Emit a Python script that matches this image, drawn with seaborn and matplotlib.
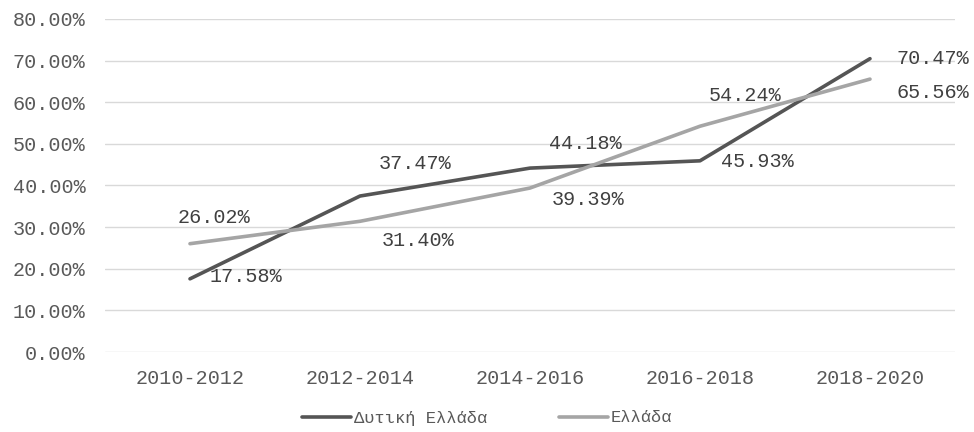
import pandas as pd
import matplotlib
matplotlib.use('Agg')
import matplotlib.pyplot as plt
import seaborn as sns
from matplotlib.ticker import PercentFormatter

# Data
periods = ['2010-2012', '2012-2014', '2014-2016', '2016-2018', '2018-2020']
west_greece = [17.58, 37.47, 44.18, 45.93, 70.47]
greece = [26.02, 31.40, 39.39, 54.24, 65.56]
series_names = ['Δυτική Ελλάδα', 'Ελλάδα']

# label offsets in pixels (dx, dy) relative to each point
west_offsets = [(56, 2), (55, 33), (55, 25), (57, -1), (63, 0)]
greece_offsets = [(24, 26), (58, -19), (58, -11), (45, 31), (63, -13)]

df = pd.DataFrame({
    'period': periods * 2,
    'value': west_greece + greece,
    'series': [series_names[0]] * 5 + [series_names[1]] * 5,
})

sns.set_style('white')
plt.rcParams['font.family'] = ['Liberation Mono', 'DejaVu Sans Mono']

fig = plt.figure(figsize=(9.74, 4.32), dpi=100)
ax = fig.add_axes([105 / 974, 80 / 432, 850 / 974, 333 / 432])

palette = {series_names[0]: '#555555', series_names[1]: '#a5a5a5'}
sns.lineplot(data=df, x='period', y='value', hue='series', palette=palette,
             linewidth=2.6, sort=False, ax=ax)

ax.set_xlim(-0.5, 4.5)
ax.set_ylim(0, 80)
ax.set_yticks(range(0, 81, 10))
ax.yaxis.set_major_formatter(PercentFormatter(decimals=2))
ax.grid(axis='y', color='#d9d9d9', linewidth=1)
ax.grid(axis='x', visible=False)
for s in ax.spines.values():
    s.set_visible(False)
ax.tick_params(axis='both', length=0, labelsize=14.5, labelcolor='#595959')
ax.tick_params(axis='y', pad=14)
ax.tick_params(axis='x', pad=12)
ax.set_xlabel('')
ax.set_ylabel('')

for vals, offs in [(west_greece, west_offsets), (greece, greece_offsets)]:
    for i, (v, (dx, dy)) in enumerate(zip(vals, offs)):
        ax.annotate(f'{v:.2f}%', xy=(i, v), xytext=(dx, dy),
                    textcoords='offset pixels', ha='center', va='center',
                    fontsize=14.5, color='#404040', annotation_clip=False)

# legend centred on the whole figure, like the original
handles, labels = ax.get_legend_handles_labels()
ax.legend_.remove()
fig.legend(handles, labels, loc='center', bbox_to_anchor=(0.5, 14 / 432),
           ncol=2, frameon=False, fontsize=12.3, handlelength=2.9,
           handletextpad=0.15, columnspacing=4.2, labelcolor='#595959')

fig.savefig('out.png', dpi=100)
